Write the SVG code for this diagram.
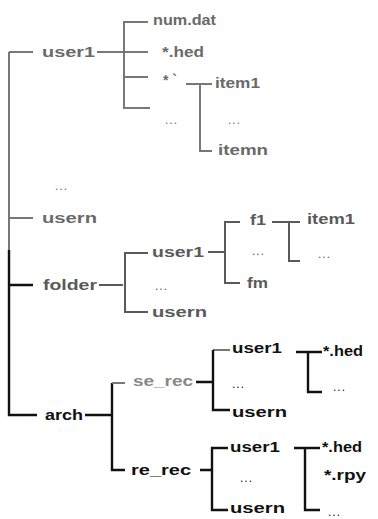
<svg xmlns="http://www.w3.org/2000/svg" width="378" height="519" viewBox="0 0 378 519">
<style>
text{font-family:"Liberation Sans",Arial,sans-serif;font-size:14px;font-weight:bold}
.g{fill:#6a6a6a}
.d{fill:#5a5a5a}
.k{fill:#111}
.lg{stroke:#777;stroke-width:2;fill:none}
.ld{stroke:#5a5a5a;stroke-width:2;fill:none}
.lk{stroke:#111;stroke-width:2.4;fill:none}
.dots{font-size:12px;font-weight:normal;letter-spacing:1px}
</style>
<rect width="378" height="519" fill="#fff"/>
<g id="connectors">
  <path class="lg" d="M9 52V250M9 52H33M9 218H33"/>
  <path class="lk" d="M9 250V415H37M9 285H33"/>
  <path class="lg" d="M97 52H123M148 22H124V108H150M124 52H148M124 77H148"/>
  <path class="lg" d="M186 84H212M200 84V151H212"/>
  <path class="ld" d="M99 285H123M148 253H125V312H148"/>
  <path class="ld" d="M208 252H224M240 222H225V283H240"/>
  <path class="ld" d="M272 222H300M289 222V261H300"/>
  <path class="lk" d="M85 415H111M112 383V470H125"/>
  <path class="lg" d="M112 383H125M213 350H230"/>
  <path class="lk" d="M196 382H213M213 350V410H230"/>
  <path class="lk" d="M296 352H322M308 352V392H322"/>
  <path class="lk" d="M200 470H211M228 448H212V510H228"/>
  <path class="lk" d="M294 448H320M305 448V510H320"/>
</g>
<g id="user1-top"><text class="g" x="42" y="57" textLength="53" lengthAdjust="spacingAndGlyphs">user1</text></g>
<g id="numdat"><text class="g" x="153" y="25" textLength="63" lengthAdjust="spacingAndGlyphs">num.dat</text></g>
<g id="hed-top"><text class="g" x="162" y="57" textLength="42" lengthAdjust="spacingAndGlyphs">*.hed</text></g>
<g id="star"><text class="g" x="163" y="85">* `</text></g>
<g id="dots-1"><text class="g dots" x="165" y="124">...</text></g>
<g id="item1-top"><text class="g" x="215" y="88" textLength="45" lengthAdjust="spacingAndGlyphs">item1</text></g>
<g id="dots-2"><text class="g dots" x="228" y="124">...</text></g>
<g id="itemn"><text class="g" x="218" y="155" textLength="50" lengthAdjust="spacingAndGlyphs">itemn</text></g>
<g id="dots-3"><text class="g dots" x="55" y="190">...</text></g>
<g id="usern-top"><text class="g" x="42" y="223" textLength="55" lengthAdjust="spacingAndGlyphs">usern</text></g>
<g id="folder"><text class="d" x="43" y="290" textLength="54" lengthAdjust="spacingAndGlyphs">folder</text></g>
<g id="folder-user1"><text class="d" x="152" y="257" textLength="52" lengthAdjust="spacingAndGlyphs">user1</text></g>
<g id="folder-dots"><text class="d dots" x="155" y="290">...</text></g>
<g id="folder-usern"><text class="d" x="152" y="317" textLength="55" lengthAdjust="spacingAndGlyphs">usern</text></g>
<g id="f1"><text class="d" x="250" y="225" textLength="16" lengthAdjust="spacingAndGlyphs">f1</text></g>
<g id="f-dots"><text class="d dots" x="252" y="255">...</text></g>
<g id="fm"><text class="d" x="247" y="288" textLength="21" lengthAdjust="spacingAndGlyphs">fm</text></g>
<g id="f-item1"><text class="d" x="307" y="224" textLength="48" lengthAdjust="spacingAndGlyphs">item1</text></g>
<g id="f-item-dots"><text class="d dots" x="318" y="258">...</text></g>
<g id="arch"><text class="k" x="45" y="420" textLength="38" lengthAdjust="spacingAndGlyphs">arch</text></g>
<g id="se_rec"><text fill="#888" x="133" y="386" textLength="60" lengthAdjust="spacingAndGlyphs">se_rec</text></g>
<g id="se-user1"><text class="k" x="232" y="353" textLength="50" lengthAdjust="spacingAndGlyphs">user1</text></g>
<g id="se-dots"><text class="k dots" x="232" y="388">...</text></g>
<g id="se-usern"><text class="k" x="232" y="417" textLength="55" lengthAdjust="spacingAndGlyphs">usern</text></g>
<g id="se-hed"><text class="k" x="323" y="356" textLength="40" lengthAdjust="spacingAndGlyphs">*.hed</text></g>
<g id="se-hed-dots"><text class="k dots" x="333" y="391">...</text></g>
<g id="re_rec"><text class="k" x="131" y="475" textLength="60" lengthAdjust="spacingAndGlyphs">re_rec</text></g>
<g id="re-user1"><text class="k" x="230" y="452" textLength="50" lengthAdjust="spacingAndGlyphs">user1</text></g>
<g id="re-dots"><text class="k dots" x="240" y="482">...</text></g>
<g id="re-usern"><text class="k" x="230" y="513" textLength="55" lengthAdjust="spacingAndGlyphs">usern</text></g>
<g id="re-hed"><text class="k" x="322" y="452" textLength="40" lengthAdjust="spacingAndGlyphs">*.hed</text></g>
<g id="re-rpy"><text class="k" x="324" y="480" textLength="42" lengthAdjust="spacingAndGlyphs">*.rpy</text></g>
<g id="re-hed-dots"><text class="k dots" x="328" y="516">...</text></g>
</svg>
